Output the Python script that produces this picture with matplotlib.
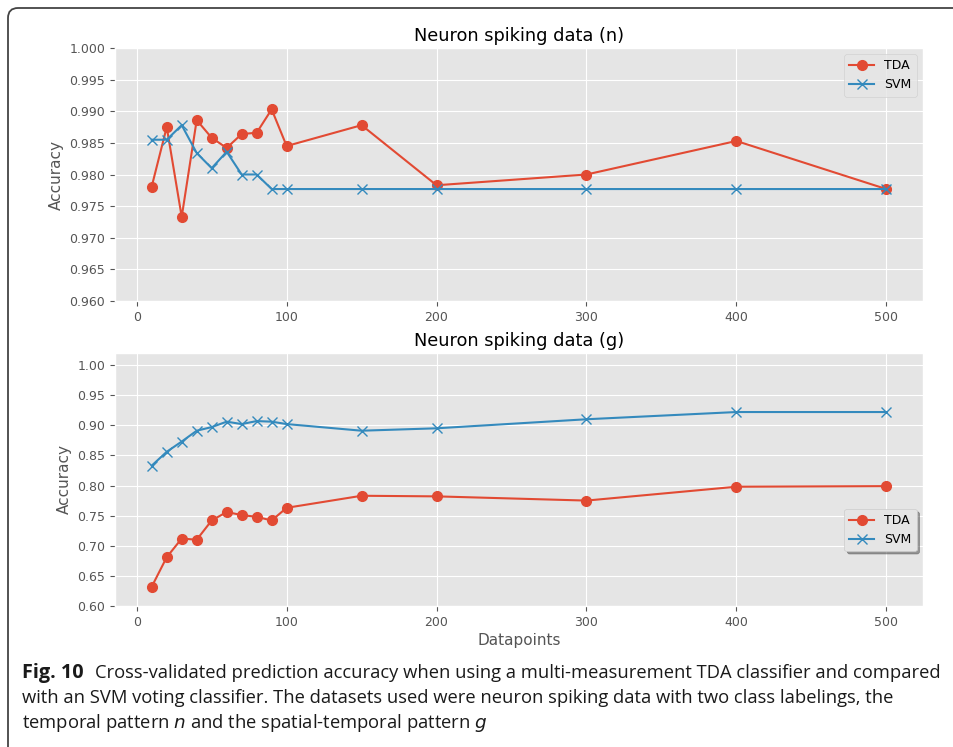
import numpy as np
import matplotlib
matplotlib.use("Agg")
import matplotlib.pyplot as plt
from matplotlib.path import Path
from matplotlib.patches import PathPatch

plt.style.use("ggplot")

# datapoints on the x axis (same for both panels)
datapoints = [10, 20, 30, 40, 50, 60, 70, 80, 90, 100, 150, 200, 300, 400, 500]

# top panel: temporal pattern n
tda_n = [0.9781, 0.9875, 0.9733, 0.9886, 0.9858, 0.9842, 0.9864, 0.9866,
         0.9903, 0.9845, 0.9878, 0.9783, 0.9800, 0.9853, 0.9777]
svm_n = [0.9855, 0.9855, 0.9878, 0.9834, 0.9810, 0.9836, 0.9800, 0.9800,
         0.9777, 0.9777, 0.9777, 0.9777, 0.9777, 0.9777, 0.9777]

# bottom panel: spatial-temporal pattern g
tda_g = [0.632, 0.681, 0.712, 0.710, 0.742, 0.756, 0.751, 0.748,
         0.742, 0.763, 0.783, 0.782, 0.775, 0.798, 0.799]
svm_g = [0.833, 0.856, 0.873, 0.891, 0.897, 0.906, 0.902, 0.907,
         0.906, 0.902, 0.891, 0.895, 0.910, 0.922, 0.922]

titles = ["Neuron spiking data (n)", "Neuron spiking data (g)"]
caption_bold = "Fig. 10"
caption = ["Cross-validated prediction accuracy when using a multi-measurement TDA classifier and compared",
           "with an SVM voting classifier. The datasets used were neuron spiking data with two class labelings, the",
           "temporal pattern $\\it{n}$ and the spatial-temporal pattern $\\it{g}$"]

W, H = 954, 747
fig = plt.figure(figsize=(W / 100, H / 100), dpi=100)
fig.patch.set_facecolor("white")

def box(l, t, r, b):
    return [l / W, 1 - b / H, (r - l) / W, (b - t) / H]

ax1 = fig.add_axes(box(115, 48, 923, 301))
ax2 = fig.add_axes(box(115, 353, 923, 606))

for ax, tda, svm, title in [(ax1, tda_n, svm_n, titles[0]), (ax2, tda_g, svm_g, titles[1])]:
    ax.plot(datapoints, tda, marker="o", markersize=7, lw=1.5, label="TDA")
    ax.plot(datapoints, svm, marker="x", markersize=7, lw=1.5, label="SVM")
    ax.set_title(title, fontsize=12.8, color="black", pad=5)
    ax.set_ylabel("Accuracy", fontsize=11, color="#555555")
    ax.tick_params(labelsize=9)
    ax.set_xticks([0, 100, 200, 300, 400, 500])

ax1.set_ylim(0.960, 1.000)
ax1.set_yticks(np.arange(0.960, 1.0001, 0.005))
ax1.set_yticklabels(["%.3f" % v for v in np.arange(0.960, 1.0001, 0.005)])
ax1.legend(loc="upper right", fontsize=9)

ax2.set_ylim(0.60, 1.02)
ax2.set_yticks(np.arange(0.60, 1.0001, 0.05))
ax2.set_yticklabels(["%.2f" % v for v in np.arange(0.60, 1.0001, 0.05)])
ax2.set_xlabel("Datapoints", fontsize=11, color="#555555", labelpad=3)
ax2.legend(loc="center right", bbox_to_anchor=(1.0, 0.30), fontsize=9, shadow=True)

# frame: left and top edges with a rounded corner, like the journal panel
r = 10
verts = [(8, H + 50), (8, 8 + r), (8, 8), (8 + r, 8), (W + 50, 8)]
codes = [Path.MOVETO, Path.LINETO, Path.CURVE3, Path.CURVE3, Path.LINETO]
verts = [(x / W, 1 - y / H) for x, y in verts]
frame = PathPatch(Path(verts, codes), transform=fig.transFigure, fill=False,
                  edgecolor="#444444", lw=1.3, clip_on=False)
fig.patches.append(frame)

cap_font = ["Open Sans", "DejaVu Sans"]
cap_size = 13.25
fig.text(22 / W, 1 - 673 / H, caption_bold, fontsize=14.3, fontweight="bold",
         family=cap_font, va="center", color="#1a1a1a")
fig.text(95 / W, 1 - 673 / H, caption[0], fontsize=cap_size, family=cap_font,
         va="center", color="#1a1a1a")
fig.text(22 / W, 1 - 698 / H, caption[1], fontsize=cap_size, family=cap_font,
         va="center", color="#1a1a1a")
fig.text(22 / W, 1 - 723 / H, caption[2], fontsize=cap_size, family=cap_font,
         va="center", color="#1a1a1a")

fig.savefig("out.png", dpi=100)
